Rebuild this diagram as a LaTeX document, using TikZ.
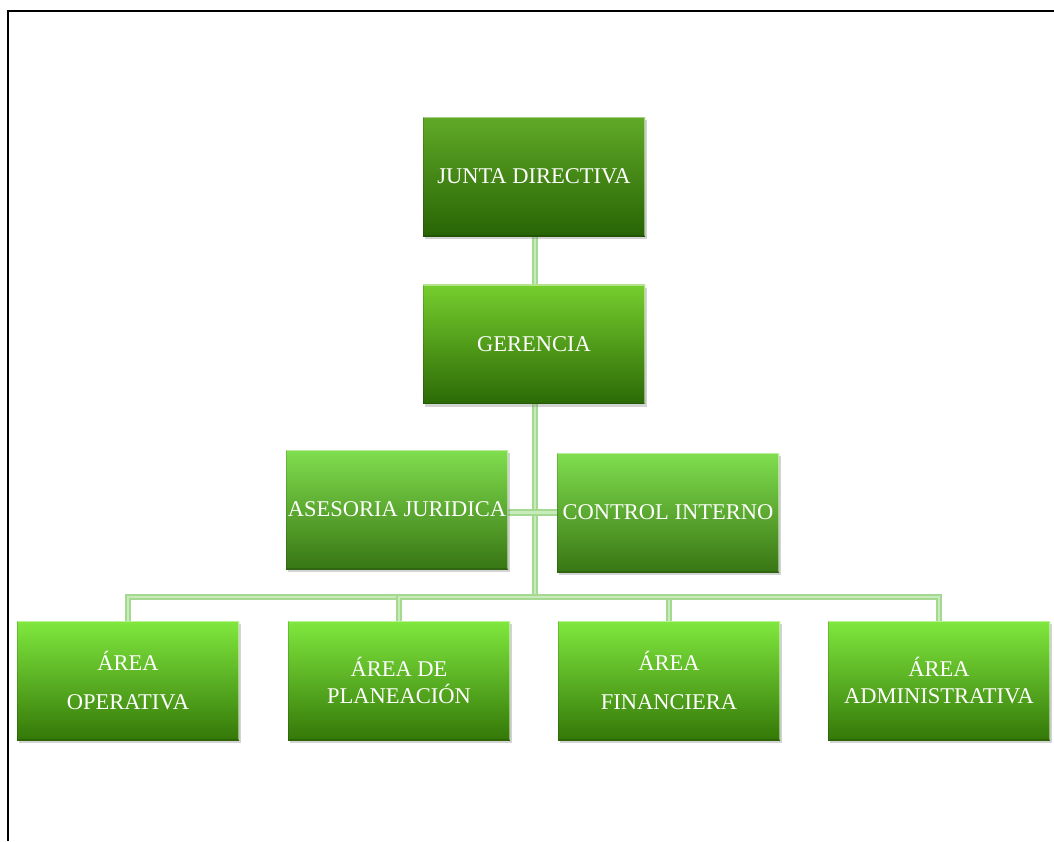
\documentclass[tikz,border=0pt]{standalone}
\usepackage{fontspec}
\setmainfont{Liberation Serif}
\usetikzlibrary{shadows,backgrounds}
\definecolor{conn}{RGB}{165,216,145}
\definecolor{connin}{RGB}{200,235,186}
\definecolor{jtop}{RGB}{96,170,40}
\definecolor{jbot}{RGB}{40,100,4}
\definecolor{gtop}{RGB}{118,206,46}
\definecolor{gbot}{RGB}{44,106,6}
\definecolor{mtop}{RGB}{128,222,78}
\definecolor{mbot}{RGB}{56,118,20}
\definecolor{btop}{RGB}{128,232,62}
\definecolor{bbot}{RGB}{52,120,8}
\begin{document}
\begin{tikzpicture}[x=1pt,y=-1pt,
  box/.style 2 args={rectangle, minimum width=222pt, minimum height=119pt,
    inner sep=0pt, align=center, text=white,
    font=\fontsize{22.5}{27}\selectfont,
    top color=#1, bottom color=#2,
    drop shadow={opacity=0.35, shadow xshift=2pt, shadow yshift=-3pt},
    path picture={
      \draw[white, opacity=0.45, line width=2.5pt]
        (path picture bounding box.north west) -- (path picture bounding box.north east)
        -- (path picture bounding box.south east);
      \draw[black, opacity=0.15, line width=2pt]
        (path picture bounding box.north west) -- (path picture bounding box.south west)
        -- (path picture bounding box.south east);
    }},
  conline/.style={draw=conn, line width=2.2pt, double=connin, double distance=2.4pt}
]
\useasboundingbox (0,0) rectangle (1054,841);
\draw[line width=2pt] (8,841) -- (8,11) -- (1054,11);

\node[box={jtop}{jbot}] (junta) at (534,176.5) {JUNTA DIRECTIVA};
\node[box={gtop}{gbot}] (ger) at (534,344) {GERENCIA};
\node[box={mtop}{mbot}] (ase) at (397,509.5) {ASESORIA JURIDICA};
\node[box={mtop}{mbot}] (ctl) at (668,512.5) {CONTROL INTERNO};
\node[box={btop}{bbot}] (op) at (128,680.5) {ÁREA\\[12pt]OPERATIVA};
\node[box={btop}{bbot}] (pl) at (399,680.5) {ÁREA DE\\[0pt]PLANEACIÓN};
\node[box={btop}{bbot}] (fi) at (669,680.5) {ÁREA\\[12pt]FINANCIERA};
\node[box={btop}{bbot}] (ad) at (939,680.5) {ÁREA\\[0pt]ADMINISTRATIVA};

\coordinate (bus) at (535,597);

\begin{scope}[on background layer]
  \draw[conline] (junta.south -| bus) -- (ger.north -| bus);
  \draw[conline] (ger.south -| bus) -- (bus);
  \draw[conline] (ase.east |- ctl.west) -- (ctl.west);
  \draw[conline] (bus) -| (op.north);
  \draw[conline] (bus) -| (pl.north);
  \draw[conline] (bus) -| (fi.north);
  \draw[conline] (bus) -| (ad.north);
\end{scope}
\end{tikzpicture}
\end{document}
